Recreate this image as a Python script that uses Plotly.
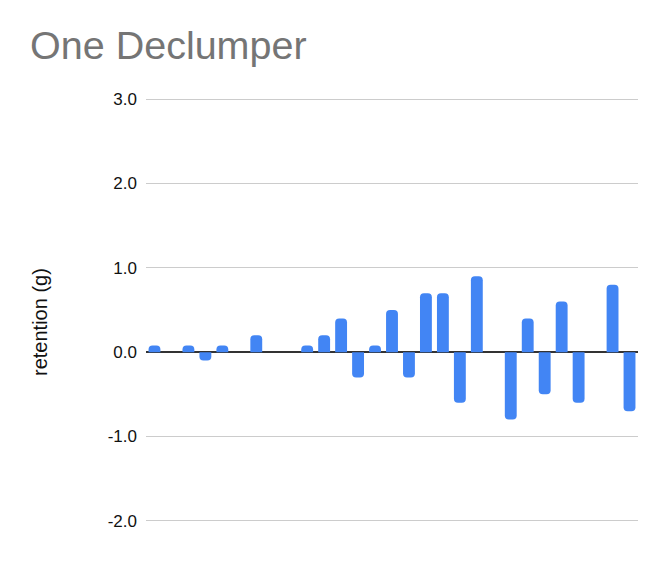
import plotly.graph_objects as go

categories = list(range(1, 30))
retention = [0.08, None, 0.08, -0.1, 0.08, None, 0.2, None, None, 0.08,
             0.2, 0.4, -0.3, 0.08, 0.5, -0.3, 0.7, 0.7, -0.6, 0.9,
             None, -0.8, 0.4, -0.5, 0.6, -0.6, None, 0.8, -0.7]
y_ticks = [-2, -1, 0, 1, 2, 3]
y_tick_labels = ["-2.0", "-1.0", "0.0", "1.0", "2.0", "3.0"]

# page has an 8px body margin, so the figure is drawn 8px in from the window edge
W, H = 660, 556
L, R, T, B = 138, 30, 87, 39
FONT = "Arial, Liberation Sans, sans-serif"
PW, PH = W - L - R, H - T - B

fig = go.Figure(go.Bar(x=categories, y=retention, marker_color="#4285F4",
                       marker_line_width=0, hoverinfo="x+y"))

fig.update_layout(
    width=W, height=H,
    margin=dict(l=L, r=R, t=T, b=B, pad=0),
    paper_bgcolor="white", plot_bgcolor="white",
    bargap=0.3, barcornerradius=4,
    showlegend=False,
    font=dict(family=FONT, color="#222"),
    title=dict(text="One Declumper", font=dict(family=FONT, size=39.5, color="#757575"),
               xref="container", yref="container", x=22 / W, xanchor="left",
               y=1 - 37 / H, yanchor="middle"),
    xaxis=dict(type="linear", range=[0.5, 29.5], showticklabels=False, showgrid=False,
               zeroline=False, showline=False, ticks=""),
    yaxis=dict(range=[-2.05, 3.05], tickvals=y_ticks, ticktext=y_tick_labels,
               tickfont=dict(size=17, color="#111"), showgrid=True, gridcolor="#cccccc",
               gridwidth=1, zeroline=True, zerolinecolor="#333333", zerolinewidth=2,
               showline=False, ticks="", ticklabelstandoff=8, layer="above traces"),
    annotations=[dict(text="retention (g)", textangle=-90, xref="paper", yref="paper",
                      x=(32 - L) / PW, y=(H - B - 314) / PH, xanchor="center", yanchor="middle",
                      showarrow=False, font=dict(family=FONT, size=20, color="#111"))],
)

fig.write_html("out.html")
